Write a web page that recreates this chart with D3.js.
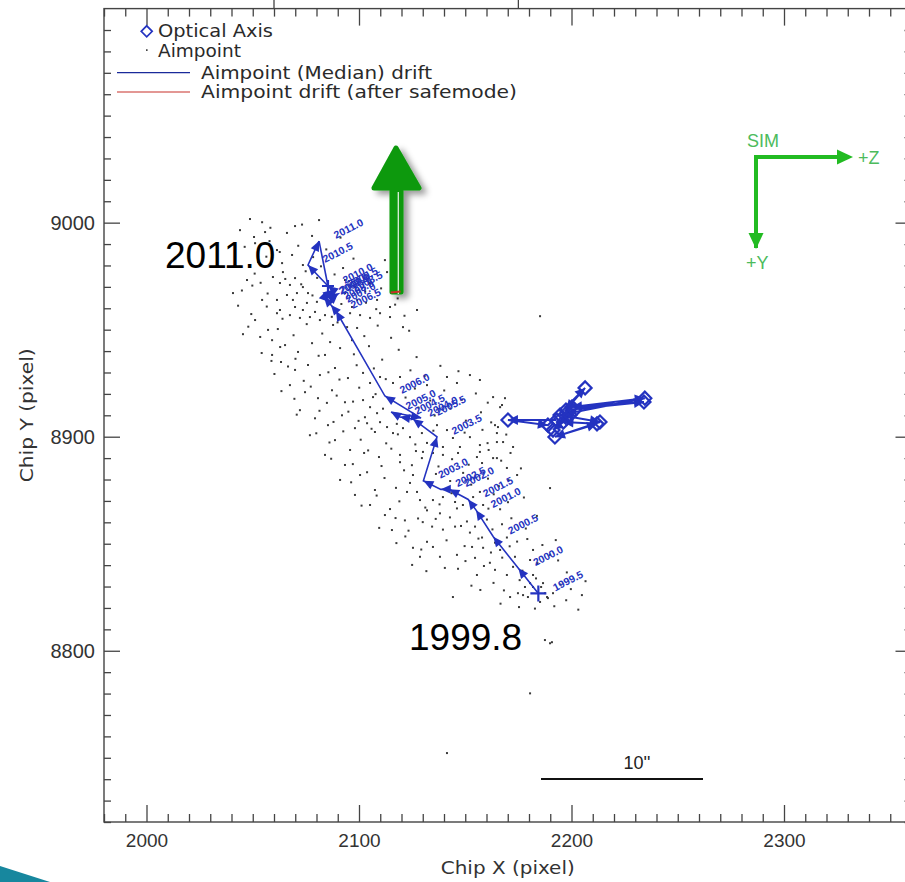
<!DOCTYPE html>
<html>
<head>
<meta charset="utf-8">
<script src="https://cdn.jsdelivr.net/npm/d3@7"></script>
<style>
  html, body { margin: 0; padding: 0; background: #fff; }
  svg { display: block; }
  .tick text { font-family: "Liberation Sans", Arial, sans-serif; fill: #333; }
</style>
</head>
<body>
<svg id="chart" width="905" height="882"></svg>
<script>
// ---- data (chip pixel coordinates) ----
// individual aimpoint positions
const aimX = [
  2081.2,2069.9,2066.1,2077.9,2061.4,2068.5,2063.8,2073.6,2078.4,2064.2,2059.5,2069.9,2067.5,2062.8,2073.6,
  2076.0,2070.8,2066.1,2061.4,2068.9,2075.5,2080.2,2062.8,2069.9,2073.6,2079.3,2084.0,2076.9,2067.5,2061.4,
  2072.2,2081.6,2095.8,2100.5,2105.2,2109.9,2112.2,2113.2,2114.6,2120.7,2127.3,2087.8,2094.4,2099.1,2092.5,
  2093.4,2098.1,2105.2,2099.1,2108.5,2096.7,2114.6,2093.4,
  2048.7,2054.4,2044.0,2040.7,2045.4,2051.1,2055.8,2052.5,2047.3,2054.4,2051.1,2057.2,
  2059.1,2065.2,2071.3,2077.9,2084.0,2091.1,2096.7,2063.3,2069.9,2076.0,2081.6,2088.7,2094.8,2067.5,2074.6,
  2080.7,2087.3,2093.4,2072.2,2079.3,2085.4,2092.0,2098.1,2076.9,2088.7,2095.8,2084.0,2093.4,2059.1,
  2091.1,2100.5,2098.1,2107.5,2105.2,2112.2,2115.5,
  2101.9,2105.2,2109.9,2116.0,2119.3,2132.0,2141.4,2152.2,2156.9,2146.1,2101.9,2106.6,2105.2,2108.5,2102.8,
  2103.8,2109.9,2107.5,2113.2,2116.0,2120.7,2124.0,2129.6,2132.0,2139.5,2144.2,2147.5,2141.4,2136.7,2152.2,
  2156.9,2163.1,2166.4,2164.9,2167.8,2172.5,2102.4,2109.4,2119.3,2130.1,2155.5,2163.1,
  2119.3,2124.9,2129.6,2134.8,2139.5,2146.6,2156.9,2157.9,2164.9,2169.6,2174.4,2125.4,2124.0,2122.6,2127.3,
  2133.4,2128.7,2134.8,2139.5,2145.2,2148.9,2153.7,2156.9,2158.4,2121.6,2127.8,2132.0,2138.1,2142.8,2146.1,
  2150.8,2154.6,2160.2,2166.4,2167.3,2134.4,2139.5,2145.2,2152.2,2157.9,2164.0,2169.6,2174.4,2125.4,2132.0,
  2153.2,2158.4,2166.4,2173.4,2146.1,2154.6,2161.6,2164.0,2169.6,2172.5,2146.6,2155.5,2180.5,2181.9,2189.9,
  2181.9,2178.1,2180.5,2186.6,2171.1,2174.8,2179.5,2188.5,2191.3,2204.9,2185.2,2189.9,2144.2,2128.7,2134.8,
  2138.1,2177.2,2181.9,2185.7,2187.5,2188.9,
  2187.5,2189.9,2190.8,2180.5,2168.7,2167.3,2164.0,2165.4,2164.9,2185.2,2141.4,
  2058.3,2073.2,2050.6,2046.2,2057.9,2071.4,2084.6,2062.7,2091.3,
  2043.8,2050.9,2056.4,2074.9,2082.1,2088.5,2097.4,2053.7,2080.3,
  2044.9,2049.8,2057.0,2065.3,2072.8,2078.1,2095.2,2102.9,2110.4,2118.2,2091.7,
  2043.1,2049.3,2056.6,2064.0,2087.2,2103.3,2108.1,2121.4,2117.0,
  2047.9,2053.5,2061.8,2069.2,2075.4,2082.7,2089.9,2102.5,2108.8,2115.1,2123.6,
  2054.2,2062.9,2070.1,2081.0,2086.4,2097.6,2104.7,2110.9,2118.7,2127.1,2058.8,
  2060.2,2066.6,2074.0,2085.6,2090.8,2098.9,2107.0,2112.6,2124.2,2130.9,2138.3,2146.8,
  2063.5,2069.6,2077.3,2084.9,2089.5,2097.2,2100.1,2107.8,2121.9,2126.3,2133.5,2140.1,2148.4,2155.0,2160.6,
  2070.7,2081.4,2088.0,2095.0,2099.8,2111.3,2117.8,2128.0,2135.6,2143.0,2150.3,2157.4,2162.2,
  2079.9,2086.1,2092.6,2100.8,2105.9,2112.8,2118.3,2126.5,2135.0,2149.7,2158.1,2160.5,2169.3,
  2086.9,2097.1,2104.3,2110.6,2115.2,2126.8,2137.4,2143.8,2151.6,2161.0,2166.9,2171.3,
  2096.3,2103.8,2112.0,2117.4,2121.2,2136.2,2142.9,2149.0,2152.8,2160.7,2165.8,2170.4,2176.2,
  2101.2,2108.3,2114.6,2119.0,2131.2,2137.9,2143.6,2160.9,2163.4,2170.1,2177.6,
  2109.5,2117.2,2123.3,2130.0,2136.1,2148.0,2156.7,2162.8,2171.7,2178.5,2183.7,
  2117.6,2121.8,2129.3,2141.2,2149.7,2156.2,2162.1,2170.9,2179.2,2186.3,2192.6,
  2125.0,2131.7,2140.4,2150.1,2158.8,2167.4,2176.9,2184.0,2193.7,2197.8,
  2152.9,2157.1,2163.3,2168.2,2175.6,2183.3,2194.8,2199.7,2206.6,
  2166.6,2175.3,2182.8,2191.9,2197.5,2203.2];
const aimY = [
  9001.2,8998.4,8995.2,8993.8,8987.2,8984.9,8981.1,8980.2,8983.9,8976.9,8974.6,8974.1,8970.9,8971.8,8969.9,
  8967.1,8967.1,8966.2,8963.9,8963.9,8962.5,8963.0,8959.2,8960.6,8959.2,8958.3,8956.8,8955.9,8956.8,8957.7,
  8955.5,8954.5,8957.7,8956.8,8955.5,8957.7,8982.5,8976.9,8955.9,8951.2,8959.2,8952.2,8951.2,8950.8,8978.8,
  8973.2,8969.9,8971.8,8963.9,8963.9,8960.6,8960.6,8967.1,
  9001.7,9000.2,8996.5,8967.1,8947.9,8990.4,8995.6,8981.6,8973.2,8963.9,8954.5,8949.9,
  8945.1,8942.8,8939.6,8943.7,8938.2,8941.4,8945.1,8934.9,8931.2,8933.5,8928.8,8932.1,8927.4,8924.1,8920.8,
  8918.0,8921.7,8916.1,8912.4,8908.6,8905.4,8910.0,8904.0,8900.7,8898.4,8893.8,8891.5,8886.8,8938.2,
  8879.8,8882.1,8872.8,8875.1,8868.1,8863.4,8856.4,
  8929.8,8925.1,8927.9,8925.1,8927.9,8924.1,8927.9,8928.8,8926.5,8925.1,8917.1,8918.5,8913.8,8911.0,8909.1,
  8906.3,8906.8,8902.2,8904.5,8901.7,8904.0,8899.8,8901.7,8897.1,8895.2,8899.4,8895.2,8903.1,8905.4,8899.8,
  8896.1,8918.5,8913.8,8901.7,8897.5,8895.2,8892.4,8890.5,8891.5,8892.9,8890.5,8890.0,
  8888.1,8886.7,8890.0,8892.4,8891.5,8892.4,8892.9,8887.7,8890.0,8885.4,8882.1,8882.1,8878.4,8874.2,8874.2,
  8876.5,8870.4,8870.4,8871.8,8869.5,8868.1,8871.8,8874.2,8868.1,8860.9,8861.8,8865.6,8864.2,8862.3,8866.5,
  8860.4,8858.0,8861.3,8866.1,8859.1,8858.0,8856.6,8858.0,8855.2,8852.9,8850.5,8852.9,8851.0,8848.1,8850.9,
  8848.5,8848.1,8847.1,8843.9,8844.8,8843.4,8841.1,8837.8,8835.4,8839.2,8838.3,8835.4,8842.4,8847.1,8844.8,
  8835.4,8829.8,8831.6,8831.6,8825.1,8826.9,8825.1,8825.1,8826.9,8826.0,8822.8,8876.0,8825.1,8843.9,8848.5,
  8843.9,8826.0,8829.8,8829.8,8826.9,8824.6,
  8805.0,8803.5,8804.0,8780.1,8918.0,8914.8,8905.4,8904.5,8897.5,8956.3,8752.2,
  8997.6,8999.1,8993.3,8988.7,8991.4,8989.2,8987.5,8986.3,8993.0,
  8979.4,8976.2,8984.1,8977.3,8979.6,8975.8,8983.2,8971.9,8974.2,
  8968.3,8970.6,8966.9,8973.7,8971.2,8966.0,8972.7,8967.9,8969.3,8964.6,8962.0,
  8961.2,8957.3,8960.8,8955.1,8956.0,8962.6,8959.6,8956.5,8961.7,
  8951.4,8946.6,8950.3,8947.4,8952.6,8948.2,8953.4,8947.0,8951.9,8946.2,8949.5,
  8939.1,8941.9,8936.4,8937.8,8944.2,8938.5,8942.3,8936.0,8940.6,8937.2,8935.4,
  8929.3,8932.8,8926.1,8930.1,8926.7,8933.4,8931.9,8926.9,8931.0,8928.4,8933.1,8930.6,
  8921.3,8917.7,8923.4,8915.8,8919.2,8916.4,8922.9,8919.9,8918.3,8922.5,8916.9,8921.6,8917.3,8920.2,8915.9,
  8910.3,8912.1,8906.9,8911.7,8907.4,8913.1,8906.0,8913.6,8909.9,8913.2,8907.5,8911.4,8906.7,
  8901.6,8897.3,8902.5,8898.6,8903.7,8896.9,8901.1,8896.4,8902.8,8901.9,8903.2,8897.0,8901.0,
  8889.7,8887.2,8893.6,8886.3,8894.4,8893.3,8886.1,8889.5,8886.9,8893.8,8888.8,8892.4,
  8878.7,8883.4,8880.7,8876.1,8884.3,8882.6,8879.3,8883.1,8877.6,8880.4,8876.9,8879.7,8885.2,
  8867.8,8872.5,8866.2,8869.8,8866.9,8868.4,8873.6,8866.4,8873.1,8869.4,8871.6,
  8857.4,8862.0,8856.1,8860.1,8861.6,8858.3,8863.9,8856.7,8861.9,8857.1,8863.0,
  8850.3,8853.4,8847.3,8851.6,8848.9,8852.4,8845.9,8848.8,8852.2,8849.4,8851.7,
  8840.1,8837.2,8838.7,8841.9,8839.6,8843.5,8837.4,8840.9,8842.2,8836.6,
  8830.4,8828.4,8831.7,8828.2,8833.0,8833.8,8830.9,8828.8,8832.5,
  8822.0,8820.4,8819.7,8820.8,8823.6,8819.2];

// median aimpoint drift, one point per half year
const driftYear = [1999.5,2000.0,2000.5,2001.0,2001.5,2002.0,2002.5,2003.0,2003.5,2004.0,2004.5,2005.0,
  2005.5,2006.0,2006.5,2007.0,2007.5,2008.0,2008.5,2009.0,2009.5,2010.0,2010.5,2011.0];
const driftX = [2184.4,2175.0,2163.2,2155.1,2151.4,2142.5,2138.5,2130.3,2136.7,2125.4,2119.3,2115.1,
  2129.2,2112.2,2089.2,2086.8,2083.5,2085.9,2090.1,2084.0,2087.8,2085.4,2076.0,2081.2];
const driftY = [8826.8,8838.5,8853.3,8865.7,8870.7,8875.4,8875.4,8879.4,8899.9,8908.3,8909.2,8911.5,
  8908.7,8919.0,8958.7,8961.5,8965.3,8962.9,8966.7,8965.7,8968.6,8970.4,8980.2,8991.4];
// latest median position after 2011.0
const latestX = [2081.2,2085.4];
const latestY = [8991.4,8970.4];
// drift after the safe mode event
const safeX = [2114.9,2119.6];
const safeY = [8967.4,8967.8];

// optical axis positions, in time order
const optX = [2193.0,2170.1,2188.9,2206.4,2197.4,2234.1,2200.2,2234.5,2194.6,2213.4,2192.2,2212.0,2196.2,2191.3,2199.3,2201.6];
const optY = [8907.8,8907.8,8905.4,8922.8,8912.5,8916.2,8913.9,8918.0,8910.1,8906.9,8899.9,8906.0,8906.9,8903.1,8910.1,8912.5];

// axis ticks
const xMajor = [2000,2100,2200,2300];
const yMajor = [8800,8900,9000];
const xLimits = [1980,2360];
const yLimits = [8720,9100];

// legend entries
const legendItems = ["Optical Axis","Aimpoint","Aimpoint (Median) drift","Aimpoint drift (after safemode)"];

// ---- drawing ----
const svg = d3.select("#chart");
const pL = 104, pR = 911.5, pT = 8.6, pB = 822;
const x = d3.scaleLinear().domain(xLimits).range([pL, pR]);
const y = d3.scaleLinear().domain(yLimits).range([pB, pT]);

const blue = "#2433c0";
const green = "#22bb22";
const frameCol = "#444";
const hershey = "DejaVu Sans, Verdana, sans-serif";

// ticks from the panel above
svg.selectAll("line.above").data([2060, 2175]).join("line")
  .attr("x1", d => x(d)).attr("x2", d => x(d))
  .attr("y1", 0).attr("y2", pT)
  .attr("stroke", frameCol).attr("stroke-width", 1.3);

// frame
svg.append("rect").attr("x", pL).attr("y", pT)
  .attr("width", pR - pL).attr("height", pB - pT)
  .attr("fill", "none").attr("stroke", frameCol).attr("stroke-width", 1.4);

const minorX = d3.range(xLimits[0], xLimits[1] + 1, 10).filter(v => v % 100 !== 0);
const minorY = d3.range(yLimits[0], yLimits[1] + 1, 10).filter(v => v % 100 !== 0);

function styleAxis(g) {
  g.select(".domain").remove();
  g.selectAll(".tick line").attr("stroke", frameCol).attr("stroke-width", 1.3);
}

// bottom axis
svg.append("g").attr("transform", `translate(0,${pB})`)
  .call(d3.axisBottom(x).tickValues(minorX).tickSizeInner(-8).tickFormat(""))
  .call(styleAxis);
svg.append("g").attr("transform", `translate(0,${pB})`)
  .call(d3.axisBottom(x).tickValues(xMajor).tickSizeInner(-17).tickPadding(12).tickFormat(d3.format("d")))
  .call(styleAxis)
  .call(g => g.selectAll("text").attr("font-size", 19).attr("dy", "0.71em"));
// top axis
svg.append("g").attr("transform", `translate(0,${pT})`)
  .call(d3.axisTop(x).tickValues(minorX).tickSizeInner(-8).tickFormat(""))
  .call(styleAxis);
svg.append("g").attr("transform", `translate(0,${pT})`)
  .call(d3.axisTop(x).tickValues(xMajor).tickSizeInner(-17).tickFormat(""))
  .call(styleAxis);
// left axis
svg.append("g").attr("transform", `translate(${pL},0)`)
  .call(d3.axisLeft(y).tickValues(minorY).tickSizeInner(-7).tickFormat(""))
  .call(styleAxis);
svg.append("g").attr("transform", `translate(${pL},0)`)
  .call(d3.axisLeft(y).tickValues(yMajor).tickSizeInner(-16).tickPadding(9).tickFormat(d3.format("d")))
  .call(styleAxis)
  .call(g => g.selectAll("text").attr("font-size", 20));
// right axis
svg.append("g").attr("transform", `translate(${pR},0)`)
  .call(d3.axisRight(y).tickValues(minorY).tickSizeInner(-7).tickFormat(""))
  .call(styleAxis);
svg.append("g").attr("transform", `translate(${pR},0)`)
  .call(d3.axisRight(y).tickValues(yMajor).tickSizeInner(-16).tickFormat(""))
  .call(styleAxis);

// axis titles
svg.append("text").attr("x", (pL + pR) / 2).attr("y", 874)
  .attr("text-anchor", "middle").attr("font-family", hershey)
  .attr("font-size", 17).attr("fill", "#333")
  .attr("textLength", 134).attr("lengthAdjust", "spacingAndGlyphs").text("Chip X (pixel)");
svg.append("text").attr("transform", `translate(33,${(pT + pB) / 2}) rotate(-90)`)
  .attr("text-anchor", "middle").attr("font-family", hershey)
  .attr("font-size", 17).attr("fill", "#333")
  .attr("textLength", 134).attr("lengthAdjust", "spacingAndGlyphs").text("Chip Y (pixel)");

// aimpoints
const aim = aimX.map((v, i) => [v, aimY[i]]);
svg.append("g").selectAll("rect").data(aim).join("rect")
  .attr("x", d => x(d[0]) - 1).attr("y", d => y(d[1]) - 1)
  .attr("width", 2).attr("height", 2).attr("fill", "#3a3a3a");

// arrowhead helper: filled triangle with tip at (x1,y1), pointing away from (x0,y0)
function arrowHead(x0, y0, x1, y1, len, half) {
  const a = Math.atan2(y1 - y0, x1 - x0);
  const bx = x1 - len * Math.cos(a), by = y1 - len * Math.sin(a);
  const px = -Math.sin(a) * half, py = Math.cos(a) * half;
  return `M${x1},${y1}L${bx + px},${by + py}L${bx - px},${by - py}Z`;
}
function plus(px, py, r) {
  return `M${px - r},${py}h${2 * r}M${px},${py - r}v${2 * r}`;
}

// median drift path
const drift = driftX.map((v, i) => ({ x: x(v), y: y(driftY[i]), yr: driftYear[i] }));
const line = d3.line().x(d => d.x).y(d => d.y);
svg.append("path").datum(drift).attr("d", line)
  .attr("fill", "none").attr("stroke", blue).attr("stroke-width", 1.6);
svg.append("g").selectAll("path").data(drift.slice(1)).join("path")
  .attr("d", (d, i) => arrowHead(drift[i].x, drift[i].y, d.x, d.y, 10, 4.5))
  .attr("fill", blue);
const latest = latestX.map((v, i) => ({ x: x(v), y: y(latestY[i]) }));
svg.append("path").datum(latest).attr("d", line)
  .attr("fill", "none").attr("stroke", blue).attr("stroke-width", 1.6);
// start and latest markers
svg.append("path")
  .attr("d", plus(drift[0].x, drift[0].y, 8) + plus(latest[1].x, latest[1].y, 6))
  .attr("stroke", blue).attr("stroke-width", 2.2);
// year labels
svg.append("g").selectAll("text").data(drift).join("text")
  .attr("transform", d => `translate(${d.x + 17},${d.y - 2}) rotate(-27)`)
  .attr("font-family", "Liberation Sans, Arial, sans-serif")
  .attr("font-size", 10.5).attr("font-weight", "bold")
  .attr("fill", blue).text(d => d.yr.toFixed(1));

// optical axis path
const opt = optX.map((v, i) => ({ x: x(v), y: y(optY[i]) }));
svg.append("path").datum(opt).attr("d", line)
  .attr("fill", "none").attr("stroke", blue).attr("stroke-width", 2);
svg.append("g").selectAll("path.ah").data(opt.slice(1)).join("path")
  .attr("d", (d, i) => arrowHead(opt[i].x, opt[i].y, d.x, d.y, 10, 5))
  .attr("fill", blue);
svg.append("g").selectAll("path.dm").data(opt).join("path")
  .attr("d", d => `M${d.x - 6.5},${d.y}L${d.x},${d.y - 6.5}L${d.x + 6.5},${d.y}L${d.x},${d.y + 6.5}Z`)
  .attr("fill", "none").attr("stroke", blue).attr("stroke-width", 2.2);

// big green arrow with soft shadow
const defs = svg.append("defs");
defs.append("filter").attr("id", "shadow").attr("x", "-50%").attr("y", "-20%")
  .attr("width", "200%").attr("height", "140%")
  .append("feDropShadow").attr("dx", 5).attr("dy", 4).attr("stdDeviation", 3)
  .attr("flood-color", "#000").attr("flood-opacity", 0.4);
const ga = svg.append("g").attr("filter", "url(#shadow)");
ga.append("path")
  .attr("d", "M392,292V188H374L396,148L419,188H401V292Z")
  .attr("fill", "#0b990b").attr("stroke", "#0b990b").attr("stroke-width", 5)
  .attr("stroke-linejoin", "round");
svg.append("line").attr("x1", 398.3).attr("x2", 398.3).attr("y1", 192).attr("y2", 294)
  .attr("stroke", "#dfeedf").attr("stroke-width", 1.3);

// safemode drift
const safe = safeX.map((v, i) => ({ x: x(v), y: y(safeY[i]) }));
svg.append("path").datum(safe).attr("d", line)
  .attr("fill", "none").attr("stroke", "#c8302a").attr("stroke-width", 2);

// SIM direction arrows
const sim = svg.append("g");
sim.append("path").attr("d", "M756,248V157H840").attr("fill", "none")
  .attr("stroke", green).attr("stroke-width", 4);
sim.append("path").attr("d", "M853,157L837,149.5V164.5Z").attr("fill", green);
sim.append("path").attr("d", "M756,249L748.5,233H763.5Z").attr("fill", green);
const simText = [["SIM", 747, 147], ["+Z", 858, 164], ["+Y", 746, 269]];
sim.selectAll("text").data(simText).join("text")
  .attr("x", d => d[1]).attr("y", d => d[2])
  .attr("font-family", "Liberation Sans, Arial, sans-serif").attr("font-size", 18)
  .attr("fill", "#4cbb5c").text(d => d[0]);

// large date annotations
svg.append("text").attr("x", 165).attr("y", 268).attr("font-family", "Liberation Sans, Arial, sans-serif")
  .attr("font-size", 37).attr("fill", "#000").text("2011.0");
svg.append("text").attr("x", 409).attr("y", 650).attr("font-family", "Liberation Sans, Arial, sans-serif")
  .attr("font-size", 37).attr("fill", "#000").text("1999.8");

// 10 arcsec scale bar
svg.append("line").attr("x1", 541).attr("x2", 703).attr("y1", 779).attr("y2", 779)
  .attr("stroke", "#111").attr("stroke-width", 2);
svg.append("text").attr("x", 637).attr("y", 769).attr("text-anchor", "middle")
  .attr("font-family", "Liberation Sans, Arial, sans-serif").attr("font-size", 18)
  .attr("fill", "#222").text("10''");

// legend
const lg = svg.append("g").attr("font-family", hershey)
  .attr("font-size", 17).attr("fill", "#2a2a2a");
lg.append("path").attr("d", "M141.2,31.3L146.7,25.8L152.2,31.3L146.7,36.8Z")
  .attr("fill", "none").attr("stroke", blue).attr("stroke-width", 1.7);
lg.append("rect").attr("x", 146).attr("y", 49.3).attr("width", 1.6).attr("height", 1.6).attr("fill", "#333");
lg.append("line").attr("x1", 117).attr("x2", 190).attr("y1", 72.7).attr("y2", 72.7)
  .attr("stroke", "#1a2a9a").attr("stroke-width", 1.2);
lg.append("line").attr("x1", 117).attr("x2", 190).attr("y1", 92).attr("y2", 92)
  .attr("stroke", "#c8302a").attr("stroke-width", 1.2);
const legPos = [[158, 37, 115], [158, 56.5, 83], [201, 79, 231], [201, 98, 316]];
lg.selectAll("text").data(legendItems).join("text")
  .attr("x", (d, i) => legPos[i][0]).attr("y", (d, i) => legPos[i][1])
  .attr("textLength", (d, i) => legPos[i][2]).attr("lengthAdjust", "spacingAndGlyphs")
  .text(d => d);

// slide corner ornament
svg.append("path").attr("d", "M0,866L50,882H0Z").attr("fill", "#17879e");
</script>
</body>
</html>
